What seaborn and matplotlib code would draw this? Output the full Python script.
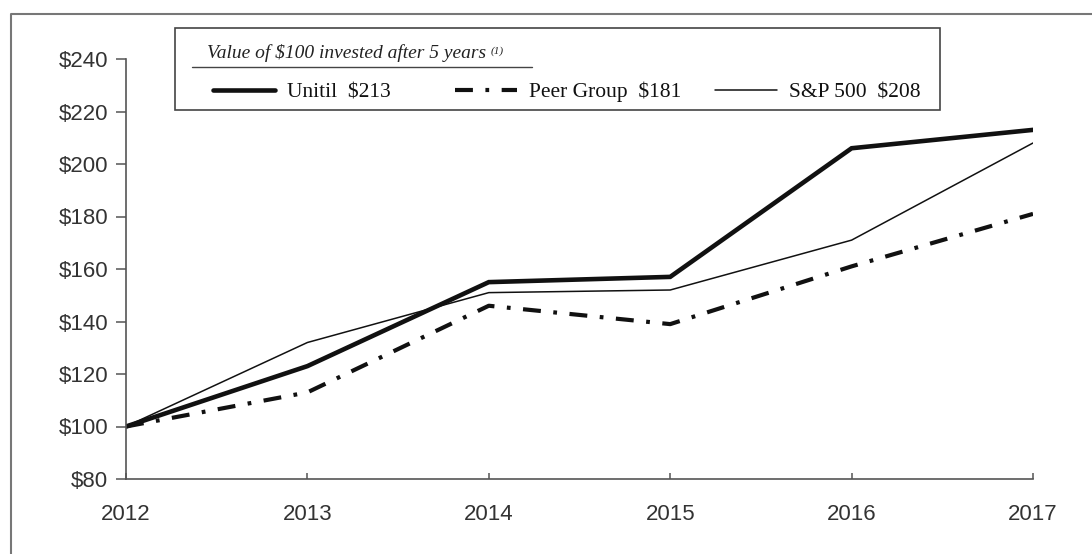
import matplotlib
matplotlib.use("Agg")
import matplotlib.pyplot as plt
from matplotlib.lines import Line2D
from matplotlib.patches import Rectangle
import seaborn as sns
import pandas as pd

# valores (valor de $100 investidos)
anos = [2012, 2013, 2014, 2015, 2016, 2017]
unitil = [100, 123, 155, 157, 206, 213]
peer_group = [100, 113, 146, 139, 161, 181]
sp500 = [100, 132, 151, 152, 171, 208]
nomes = ["Unitil", "Peer Group", "S&P 500"]
ticks_y = [80, 100, 120, 140, 160, 180, 200, 220, 240]
titulo_legenda = "Value of $100 invested after 5 years"
nota = "(1)"

sns.set_theme(style="white")
plt.rcParams["font.family"] = ["Liberation Sans", "DejaVu Sans"]

fig = plt.figure(figsize=(10.92, 5.54), dpi=100)
W, H = 1092, 554
ax = fig.add_axes([126 / W, 1 - 479 / H, (1033 - 126) / W, (479 - 59) / H])

series = [
    (nomes[0], unitil, 3.3, "-"),
    (nomes[1], peer_group, 3.0, (0, (4.3, 3.0, 0.9, 3.0))),
    (nomes[2], sp500, 1.1, "-"),
]
for nome, vals, lw, ls in series:
    df = pd.DataFrame({"ano": anos, "valor": vals})
    sns.lineplot(data=df, x="ano", y="valor", ax=ax, color="#111111",
                 linewidth=lw, label=f"{nome}  ${vals[-1]}")
    ln = ax.lines[-1]
    ln.set_linestyle(ls)
    ln.set_dash_capstyle("butt")
    ln.set_solid_joinstyle("miter")

ax.set_xlim(anos[0], anos[-1])
ax.set_ylim(ticks_y[0], ticks_y[-1])
ax.set_xticks(anos)
ax.set_yticks(ticks_y)
ax.set_yticklabels([f"${v}" for v in ticks_y])
ax.set_xlabel("")
ax.set_ylabel("")
for s in ["top", "right"]:
    ax.spines[s].set_visible(False)
for s in ["left", "bottom"]:
    ax.spines[s].set_color("#555555")
    ax.spines[s].set_linewidth(1.2)
ax.tick_params(axis="y", direction="out", length=7, width=1.1, color="#555555",
               labelsize=16, labelcolor="#333333", pad=6, left=True)
ax.tick_params(axis="x", direction="in", length=4, width=1.1, color="#555555",
               labelsize=16, labelcolor="#333333", pad=18, bottom=True)

# legenda: uma entrada por série, cada uma na sua posição
handles, labels = ax.get_legend_handles_labels()
ax.get_legend().remove()
pos_x = [213, 455, 715]
for h, l, x in zip(handles, labels, pos_x):
    leg = fig.legend([h], [l], loc="center left", bbox_to_anchor=(x / W, 1 - 92 / H),
                     frameon=False, borderpad=0, borderaxespad=0,
                     handlelength=2.9, handletextpad=0.55,
                     prop={"family": "Liberation Serif", "size": 15.5})
    for t in leg.get_texts():
        t.set_color("#111111")

# caixa da legenda e moldura externa
fig.add_artist(Rectangle((175 / W, 1 - 110 / H), (940 - 175) / W, (110 - 28) / H,
                         transform=fig.transFigure, fill=False,
                         edgecolor="#444444", linewidth=1.2))
tit = fig.text(207 / W, 1 - 53 / H, titulo_legenda, fontsize=14, style="italic",
               family="Liberation Serif", va="center", ha="left", color="#222222")
fig.canvas.draw()
bb = tit.get_window_extent().transformed(fig.transFigure.inverted())
fig.text(bb.x1 + 4 / W, bb.y1 - 2 / H, nota, fontsize=8, style="italic",
         family="Liberation Serif", va="top", ha="left", color="#222222")
fig.add_artist(Line2D([192 / W, 532 / W], [1 - 67 / H, 1 - 67 / H],
                      transform=fig.transFigure, color="#444444", linewidth=1.0))
fig.add_artist(Line2D([11 / W, 11 / W, 1.0], [0.0, 1 - 14 / H, 1 - 14 / H],
                      transform=fig.transFigure, color="#777777", linewidth=1.5))

fig.savefig("out.png", dpi=100)
